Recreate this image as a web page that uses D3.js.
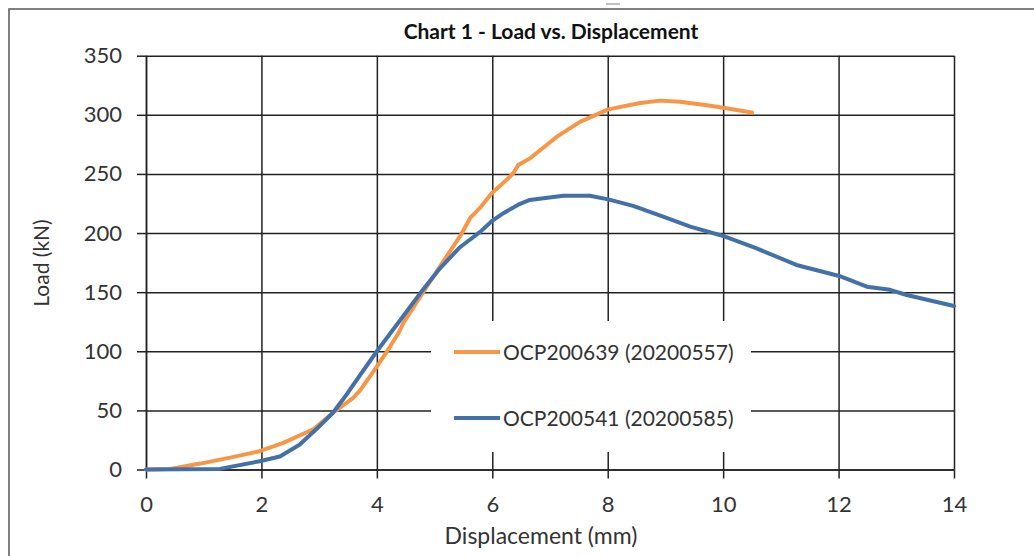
<!DOCTYPE html>
<html>
<head>
<meta charset="utf-8">
<script src="https://cdn.jsdelivr.net/npm/d3@7"></script>
<style>
  body { margin: 0; background: #fff; }
  svg { display: block; font-family: Lato, "Open Sans", sans-serif; }
</style>
</head>
<body>
<svg id="chart" width="1034" height="556"></svg>
<script>
// series: [displacement mm, load kN]
var orangeData = [
  [0, 0], [0.42, 0.5], [0.94, 5], [1.5, 10.5], [1.97, 15.5], [2.38, 22.5],
  [2.9, 34], [3.24, 48], [3.59, 60.6], [3.71, 67], [4.0, 87], [4.23, 104],
  [4.37, 115], [4.46, 124], [4.75, 146], [5.09, 171.5], [5.45, 198],
  [5.62, 213], [5.8, 222], [5.99, 233.6], [6.25, 245], [6.37, 251], [6.45, 257.5],
  [6.65, 263], [7.12, 281.5], [7.52, 294], [8.01, 304.6], [8.56, 310],
  [8.91, 312], [9.25, 311], [9.72, 308], [10.0, 306], [10.5, 302]
];
var blueData = [
  [0, 0], [1.28, 0.5], [1.97, 7], [2.32, 11], [2.66, 21], [2.95, 34],
  [3.24, 48], [3.47, 63], [3.53, 67.3], [4.0, 100], [4.4, 126], [4.75, 149],
  [5.09, 170], [5.44, 188], [5.79, 201], [5.99, 210], [6.2, 217], [6.45, 224],
  [6.65, 228], [7.23, 231.6], [7.69, 231.6], [8.01, 228.5], [8.44, 223],
  [8.96, 213.8], [9.43, 205.4], [10.0, 197.5], [10.58, 187], [11.27, 173],
  [12.01, 163.7], [12.49, 154.6], [12.89, 152], [13.18, 147.6], [14.0, 138.3]
];
var seriesNames = ["OCP200639 (20200557)", "OCP200541 (20200585)"];
var seriesColors = ["#f79646", "#4470a8"];
var xTicks = [0, 2, 4, 6, 8, 10, 12, 14];
var yTicks = [0, 50, 100, 150, 200, 250, 300, 350];

var svg = d3.select("#chart");
var MARGINS = { left: 146, right: 1034 - 954, top: 55.7, bottom: 556 - 469.5 };
var WIDTH = 1034, HEIGHT = 556;

var x = d3.scaleLinear().domain([0, 14]).range([MARGINS.left, WIDTH - MARGINS.right]);
var y = d3.scaleLinear().domain([0, 350]).range([HEIGHT - MARGINS.bottom, MARGINS.top]);

// outer chart border
svg.append("rect")
  .attr("x", 9).attr("y", 9).attr("width", 1100).attr("height", 700)
  .attr("fill", "none").attr("stroke", "#555").attr("stroke-width", 1.5);
svg.append("line")
  .attr("x1", 606).attr("x2", 620).attr("y1", 4).attr("y2", 4)
  .attr("stroke", "#aaa").attr("stroke-width", 1.5);

// grid
svg.append("g")
  .attr("class", "grid")
  .attr("transform", "translate(0," + y(0) + ")")
  .call(d3.axisBottom(x).tickValues(xTicks).tickSize(-(y(0) - y(350))).tickSizeOuter(0).tickFormat(""))
  .call(g => g.select(".domain").remove());
svg.append("g")
  .attr("class", "grid")
  .attr("transform", "translate(" + x(0) + ",0)")
  .call(d3.axisLeft(y).tickValues(yTicks).tickSize(-(x(14) - x(0))).tickSizeOuter(0).tickFormat(""))
  .call(g => g.select(".domain").remove());
svg.selectAll(".grid line").attr("stroke", "#222").attr("stroke-width", 1.5);

// axes with outward ticks
var xAxis = svg.append("g")
  .attr("transform", "translate(0," + y(0) + ")")
  .call(d3.axisBottom(x).tickValues(xTicks).tickSize(9).tickPadding(18).tickSizeOuter(0));
var yAxis = svg.append("g")
  .attr("transform", "translate(" + x(0) + ",0)")
  .call(d3.axisLeft(y).tickValues(yTicks).tickSize(9).tickPadding(15).tickSizeOuter(0));
[xAxis, yAxis].forEach(function (g) {
  g.select(".domain").attr("stroke", "#222").attr("stroke-width", 1.5);
  g.selectAll(".tick line").attr("stroke", "#222").attr("stroke-width", 1.5);
  g.selectAll(".tick text").attr("fill", "#333").attr("font-size", 22)
    .attr("font-family", "Lato, 'Open Sans', sans-serif");
});

// series lines
var lineFunc = d3.line()
  .x(function (d) { return x(d[0]); })
  .y(function (d) { return y(d[1]); });

[orangeData, blueData].forEach(function (data, i) {
  svg.append("path")
    .attr("d", lineFunc(data))
    .attr("fill", "none")
    .attr("stroke", seriesColors[i])
    .attr("stroke-width", 4)
    .attr("stroke-linejoin", "round")
    .attr("stroke-linecap", "round");
});

// legend (white box over the grid)
var legend = svg.append("g");
legend.append("rect")
  .attr("x", 431).attr("y", 321).attr("width", 320).attr("height", 131)
  .attr("fill", "#fff");
[352, 418].forEach(function (ly, i) {
  legend.append("line")
    .attr("x1", 454).attr("x2", 500).attr("y1", ly).attr("y2", ly)
    .attr("stroke", seriesColors[i]).attr("stroke-width", 4);
  legend.append("text")
    .attr("x", 503).attr("y", ly + 7.5)
    .attr("font-size", 21).attr("fill", "#333")
    .text(seriesNames[i]);
});

// titles
svg.append("text")
  .attr("x", 551).attr("y", 39)
  .attr("text-anchor", "middle")
  .attr("font-size", 21).attr("font-weight", "bold").attr("fill", "#111")
  .text("Chart 1 - Load vs. Displacement");
svg.append("text")
  .attr("x", 541).attr("y", 544)
  .attr("text-anchor", "middle")
  .attr("font-size", 23).attr("fill", "#333")
  .text("Displacement (mm)");
svg.append("text")
  .attr("transform", "translate(49,263) rotate(-90)")
  .attr("text-anchor", "middle")
  .attr("font-size", 21).attr("fill", "#333")
  .text("Load (kN)");
</script>
</body>
</html>
